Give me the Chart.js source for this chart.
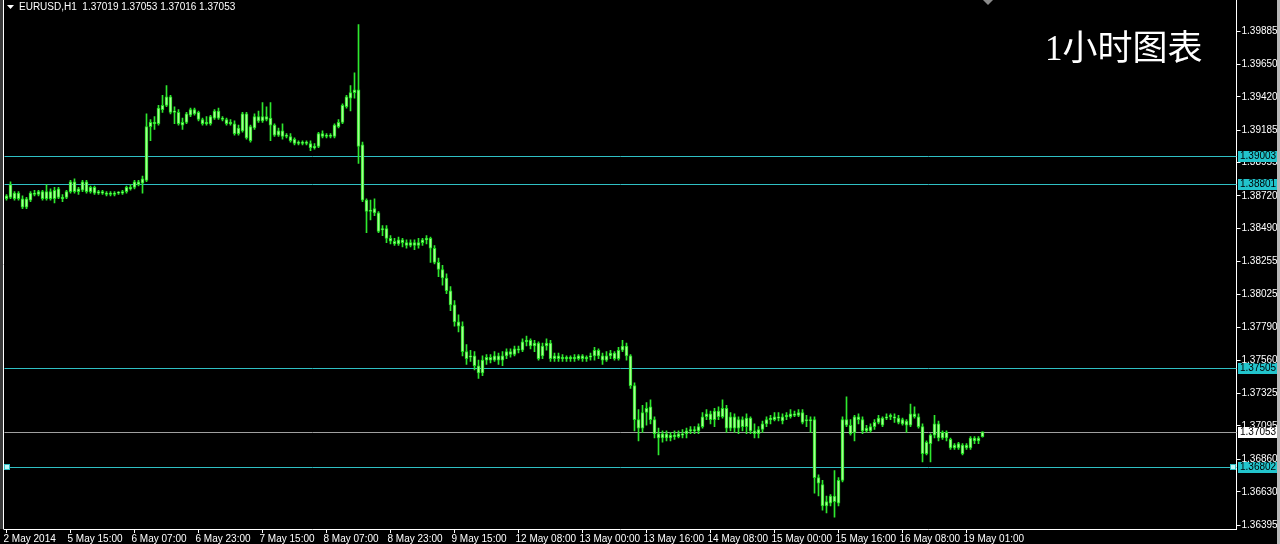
<!DOCTYPE html>
<html>
<head>
<meta charset="utf-8">
<script src="https://cdn.jsdelivr.net/npm/chart.js@4.4.1/dist/chart.umd.min.js"></script>
<style>
  html, body { margin: 0; padding: 0; background: #000; overflow: hidden; }
  canvas { display: block; }
</style>
</head>
<body>
<canvas id="priceChart" width="1280" height="544"></canvas>
<script>
// EURUSD H1, one candle per hour
const opens = [
  1.3872,1.3871,1.3874,1.3870,1.3870,1.3864,1.3869,1.3874,1.3873,1.3875,
  1.3870,1.3875,1.3876,1.3871,1.3871,1.3871,1.3875,1.3882,1.3875,1.3876,
  1.3882,1.3875,1.3878,1.3874,1.3875,1.3874,1.3874,1.3873,1.3874,1.3874,
  1.3875,1.3877,1.3878,1.3880,1.3881,1.3883,1.3921,1.3923,1.3923,1.3933,
  1.3936,1.3942,1.3931,1.3931,1.3924,1.3924,1.3929,1.3933,1.3931,1.3926,
  1.3924,1.3923,1.3927,1.3932,1.3927,1.3926,1.3924,1.3923,1.3916,1.3918,
  1.3930,1.3911,1.3920,1.3928,1.3925,1.3928,1.3927,1.3922,1.3918,1.3918,
  1.3915,1.3914,1.3912,1.3910,1.3909,1.3910,1.3909,1.3907,1.3907,1.3916,
  1.3914,1.3914,1.3914,1.3921,1.3924,1.3935,1.3941,1.3945,1.3947,1.3908,
  1.3869,1.3862,1.3863,1.3860,1.3848,1.3849,1.3842,1.3840,1.3838,1.3841,
  1.3839,1.3837,1.3839,1.3837,1.3839,1.3841,1.3842,1.3835,1.3825,1.3820,
  1.3814,1.3805,1.3795,1.3783,1.3780,1.3762,1.3758,1.3759,1.3752,1.3747,
  1.3756,1.3758,1.3756,1.3759,1.3756,1.3759,1.3762,1.3760,1.3764,1.3763,
  1.3769,1.3770,1.3766,1.3768,1.3759,1.3766,1.3768,1.3757,1.3759,1.3757,
  1.3758,1.3757,1.3758,1.3757,1.3759,1.3757,1.3758,1.3759,1.3763,1.3759,
  1.3756,1.3759,1.3761,1.3757,1.3763,1.3766,1.3759,1.3738,1.3714,1.3708,
  1.3719,1.3723,1.3714,1.3704,1.3701,1.3704,1.3701,1.3703,1.3702,1.3704,
  1.3704,1.3706,1.3707,1.3706,1.3709,1.3716,1.3718,1.3714,1.3720,1.3716,
  1.3722,1.3708,1.3716,1.3708,1.3714,1.3709,1.3715,1.3706,1.3704,1.3707,
  1.3711,1.3714,1.3714,1.3716,1.3713,1.3716,1.3716,1.3718,1.3717,1.3719,
  1.3714,1.3713,1.3714,1.3673,1.3668,1.3653,1.3655,1.3656,1.3655,1.3671,
  1.3714,1.3710,1.3705,1.3716,1.3714,1.3706,1.3706,1.3709,1.3712,1.3715,
  1.3715,1.3716,1.3715,1.3715,1.3714,1.3713,1.3710,1.3716,1.3716,1.3709,
  1.3690,1.3697,1.3703,1.3711,1.3701,1.3705,1.3700,1.3694,1.3694,1.3696,
  1.3694,1.3694,1.3699,1.3699,1.37019
];
const highs = [
  1.3873,1.3882,1.3875,1.3875,1.3872,1.3871,1.3875,1.3876,1.3876,1.3876,
  1.3880,1.3877,1.3878,1.3878,1.3873,1.3876,1.3883,1.3884,1.3878,1.3883,
  1.3883,1.3879,1.3879,1.3876,1.3876,1.3875,1.3875,1.3875,1.3875,1.3876,
  1.3879,1.3880,1.3883,1.3883,1.3886,1.3930,1.3926,1.3928,1.3936,1.3943,
  1.3950,1.3943,1.3935,1.3933,1.3927,1.3931,1.3934,1.3934,1.3932,1.3927,
  1.3928,1.3929,1.3933,1.3934,1.3928,1.3927,1.3926,1.3925,1.3922,1.3931,
  1.3931,1.3922,1.3930,1.3932,1.3938,1.3935,1.3938,1.3923,1.3920,1.3923,
  1.3916,1.3916,1.3913,1.3911,1.3911,1.3911,1.3911,1.3909,1.3917,1.3918,
  1.3916,1.3916,1.3923,1.3926,1.3937,1.3943,1.3950,1.3959,1.3993,1.3910,
  1.3870,1.3869,1.3870,1.3861,1.3851,1.3851,1.3844,1.3842,1.3843,1.3842,
  1.3841,1.3841,1.3841,1.3842,1.3842,1.3844,1.3843,1.3837,1.3828,1.3823,
  1.3817,1.3808,1.3798,1.3788,1.3783,1.3767,1.3763,1.3762,1.3756,1.3759,
  1.3760,1.3760,1.3762,1.3761,1.3762,1.3764,1.3764,1.3766,1.3766,1.3771,
  1.3773,1.3771,1.3770,1.3769,1.3768,1.3771,1.3770,1.3761,1.3761,1.3760,
  1.3759,1.3759,1.3760,1.3760,1.3760,1.3759,1.3761,1.3765,1.3764,1.3761,
  1.3762,1.3763,1.3762,1.3765,1.3770,1.3768,1.3760,1.3740,1.3721,1.3724,
  1.3726,1.3728,1.3716,1.3708,1.3706,1.3706,1.3705,1.3706,1.3706,1.3707,
  1.3708,1.3709,1.3709,1.3711,1.3719,1.3721,1.3720,1.3722,1.3723,1.3728,
  1.3724,1.3719,1.3718,1.3716,1.3716,1.3718,1.3716,1.3711,1.3709,1.3713,
  1.3716,1.3717,1.3719,1.3719,1.3718,1.3719,1.3721,1.3720,1.3721,1.3721,
  1.3717,1.3716,1.3716,1.3675,1.3671,1.3660,1.3661,1.3678,1.3673,1.3716,
  1.3730,1.3714,1.3717,1.3718,1.3716,1.3710,1.3711,1.3714,1.3717,1.3716,
  1.3718,1.3718,1.3718,1.3717,1.3715,1.3714,1.3725,1.3723,1.3718,1.3711,
  1.3699,1.3704,1.3717,1.3713,1.3706,1.3706,1.3701,1.3697,1.3698,1.3697,
  1.3697,1.3702,1.3702,1.3702,1.37053
];
const lows = [
  1.3869,1.3870,1.3869,1.3869,1.3863,1.3863,1.3868,1.3872,1.3872,1.3869,
  1.3869,1.3869,1.3867,1.3870,1.3868,1.3870,1.3874,1.3874,1.3873,1.3875,
  1.3874,1.3874,1.3873,1.3873,1.3873,1.3872,1.3872,1.3872,1.3873,1.3873,
  1.3874,1.3876,1.3877,1.3879,1.3874,1.3882,1.3911,1.3919,1.3922,1.3931,
  1.3935,1.3930,1.3923,1.3922,1.3919,1.3923,1.3928,1.3929,1.3925,1.3922,
  1.3922,1.3922,1.3926,1.3926,1.3925,1.3922,1.3922,1.3915,1.3915,1.3917,
  1.3912,1.3910,1.3919,1.3924,1.3924,1.3925,1.3911,1.3914,1.3914,1.3912,
  1.3913,1.3910,1.3908,1.3908,1.3908,1.3908,1.3904,1.3905,1.3906,1.3913,
  1.3913,1.3913,1.3913,1.3920,1.3923,1.3934,1.3932,1.3941,1.3895,1.3868,
  1.3846,1.3855,1.3858,1.3846,1.3844,1.3839,1.3838,1.3837,1.3837,1.3836,
  1.3835,1.3836,1.3834,1.3835,1.3837,1.3838,1.3825,1.3824,1.3815,1.3809,
  1.3803,1.3791,1.3780,1.3776,1.3759,1.3753,1.3755,1.3749,1.3743,1.3745,
  1.3753,1.3754,1.3755,1.3753,1.3752,1.3757,1.3758,1.3759,1.3761,1.3762,
  1.3766,1.3764,1.3762,1.3756,1.3757,1.3763,1.3755,1.3755,1.3755,1.3755,
  1.3755,1.3755,1.3755,1.3756,1.3755,1.3755,1.3756,1.3756,1.3757,1.3753,
  1.3755,1.3757,1.3756,1.3756,1.3762,1.3756,1.3736,1.3706,1.3699,1.3705,
  1.3710,1.3711,1.3701,1.3689,1.3698,1.3699,1.3699,1.3700,1.3701,1.3701,
  1.3701,1.3704,1.3704,1.3704,1.3708,1.3714,1.3711,1.3709,1.3714,1.3715,
  1.3705,1.3706,1.3705,1.3704,1.3706,1.3704,1.3704,1.3701,1.3701,1.3705,
  1.3709,1.3711,1.3713,1.3713,1.3711,1.3714,1.3715,1.3716,1.3716,1.3711,
  1.3709,1.3705,1.3662,1.3660,1.3650,1.3648,1.3653,1.3645,1.3653,1.3670,
  1.3709,1.3703,1.3699,1.3711,1.3704,1.3705,1.3705,1.3707,1.3711,1.3709,
  1.3714,1.3714,1.3712,1.3711,1.3710,1.3705,1.3709,1.3715,1.3708,1.3684,
  1.3689,1.3684,1.3701,1.3699,1.3700,1.3699,1.3693,1.3693,1.3693,1.3689,
  1.3693,1.3693,1.3697,1.3697,1.37016
];
const closes = [
  1.3870,1.3880,1.3870,1.3874,1.3864,1.3870,1.3874,1.3873,1.3875,1.3870,
  1.3875,1.3870,1.3870,1.3877,1.3870,1.3875,1.3882,1.3875,1.3877,1.3882,
  1.3875,1.3878,1.3874,1.3875,1.3874,1.3873,1.3873,1.3874,1.3874,1.3875,
  1.3878,1.3878,1.3882,1.3882,1.3884,1.3921,1.3924,1.3924,1.3934,1.3936,
  1.3942,1.3931,1.3932,1.3923,1.3922,1.3930,1.3933,1.3930,1.3926,1.3923,
  1.3923,1.3928,1.3932,1.3927,1.3926,1.3923,1.3923,1.3916,1.3920,1.3930,
  1.3913,1.3921,1.3928,1.3925,1.3928,1.3926,1.3922,1.3915,1.3915,1.3914,
  1.3914,1.3911,1.3909,1.3909,1.3910,1.3909,1.3906,1.3906,1.3916,1.3914,
  1.3915,1.3915,1.3922,1.3924,1.3936,1.3942,1.3945,1.3947,1.3907,1.3869,
  1.3861,1.3861,1.3860,1.3847,1.3849,1.3842,1.3840,1.3838,1.3841,1.3839,
  1.3837,1.3839,1.3837,1.3839,1.3841,1.3842,1.3835,1.3825,1.3820,1.3814,
  1.3805,1.3795,1.3783,1.3780,1.3762,1.3757,1.3759,1.3752,1.3747,1.3756,
  1.3758,1.3756,1.3759,1.3756,1.3759,1.3762,1.3760,1.3764,1.3763,1.3769,
  1.3770,1.3766,1.3768,1.3757,1.3766,1.3768,1.3757,1.3759,1.3757,1.3758,
  1.3757,1.3758,1.3757,1.3759,1.3757,1.3758,1.3759,1.3763,1.3759,1.3756,
  1.3759,1.3761,1.3757,1.3763,1.3766,1.3759,1.3738,1.3714,1.3708,1.3719,
  1.3722,1.3714,1.3704,1.3701,1.3704,1.3701,1.3703,1.3702,1.3704,1.3703,
  1.3706,1.3707,1.3706,1.3709,1.3716,1.3718,1.3714,1.3720,1.3716,1.3722,
  1.3708,1.3716,1.3708,1.3714,1.3709,1.3715,1.3706,1.3704,1.3707,1.3711,
  1.3714,1.3715,1.3716,1.3715,1.3716,1.3717,1.3718,1.3717,1.3719,1.3712,
  1.3713,1.3714,1.3673,1.3669,1.3653,1.3656,1.3660,1.3660,1.3671,1.3714,
  1.3710,1.3704,1.3716,1.3714,1.3706,1.3708,1.3709,1.3712,1.3715,1.3710,
  1.3716,1.3717,1.3716,1.3712,1.3711,1.3710,1.3718,1.3718,1.3709,1.3690,
  1.3698,1.3703,1.3711,1.3701,1.3705,1.3701,1.3694,1.3696,1.3697,1.3690,
  1.3696,1.3701,1.3701,1.3701,1.37053
];

// time axis: one label every 16 bars
const tickLabels = ['2 May 2014', '5 May 15:00', '6 May 07:00', '6 May 23:00', '7 May 15:00',
  '8 May 07:00', '8 May 23:00', '9 May 15:00', '12 May 08:00', '13 May 00:00', '13 May 16:00',
  '14 May 08:00', '15 May 00:00', '15 May 16:00', '16 May 08:00', '19 May 01:00'];
const priceTicks = [1.36395, 1.36630, 1.36860, 1.37095, 1.37325, 1.37560, 1.37790, 1.38025,
  1.38255, 1.38490, 1.38720, 1.38955, 1.39185, 1.39420, 1.39650, 1.39885];
const levels = [1.39003, 1.38801, 1.37505, 1.36802];
const bidPrice = 1.37053;
const header = 'EURUSD,H1  1.37019 1.37053 1.37016 1.37053';
const caption = '1小时图表';

const barSlots = 308; // visible bar positions incl. empty shift area
const slotLabels = Array.from({ length: barSlots }, (_, i) => String(i));
const font = '"Liberation Sans", Arial, sans-serif';

const mt4Decor = {
  id: 'mt4Decor',
  beforeDraw(chart) {
    const ctx = chart.ctx;
    ctx.save();
    ctx.fillStyle = '#000';
    ctx.fillRect(0, 0, chart.width, chart.height);
    ctx.restore();
  },
  beforeDatasetsDraw(chart) {
    const { ctx, chartArea: a, scales: { y } } = chart;
    ctx.save();
    ctx.lineWidth = 1;
    ctx.strokeStyle = '#2fbfc4';
    levels.forEach(v => {
      const py = Math.round(y.getPixelForValue(v)) + 0.5;
      ctx.beginPath(); ctx.moveTo(a.left, py); ctx.lineTo(a.right, py); ctx.stroke();
    });
    const by = Math.round(y.getPixelForValue(bidPrice)) + 0.5;
    ctx.strokeStyle = '#a0a0a0';
    ctx.beginPath(); ctx.moveTo(a.left, by); ctx.lineTo(a.right, by); ctx.stroke();
    ctx.restore();
  },
  afterDraw(chart) {
    const { ctx, chartArea: a, scales: { y } } = chart;
    ctx.save();
    // frame bits
    ctx.fillStyle = '#3a3a3a';
    ctx.fillRect(0, 0, 3, a.bottom);
    ctx.fillStyle = '#b8b8b8';
    ctx.fillRect(1277, 0, 3, chart.height);
    ctx.strokeStyle = '#fff';
    ctx.lineWidth = 1;
    ctx.beginPath(); ctx.moveTo(3.5, 0); ctx.lineTo(3.5, Math.round(a.bottom) + 0.5); ctx.stroke();

    // square handles on the lowest level
    const sy = Math.round(y.getPixelForValue(levels[3]));
    ctx.fillStyle = '#bff6f8';
    ctx.strokeStyle = '#2fbfc4';
    [[5, sy - 2], [1231, sy - 2]].forEach(([sx, sy2]) => {
      ctx.fillRect(sx, sy2, 4, 4);
      ctx.strokeRect(sx - 0.5, sy2 - 0.5, 5, 5);
    });

    // price tags on the right axis
    ctx.font = '10px ' + font;
    ctx.textBaseline = 'middle';
    ctx.textAlign = 'left';
    const tag = (v, bg) => {
      const py = Math.round(y.getPixelForValue(v));
      ctx.fillStyle = bg;
      ctx.fillRect(1238, py - 5, 39, 11);
      ctx.fillStyle = '#000';
      ctx.fillText(v.toFixed(5), 1240, py + 0.5);
    };
    levels.forEach(v => tag(v, '#22c4cc'));
    tag(bidPrice, '#fff');

    // header with the little dropdown arrow
    ctx.fillStyle = '#fff';
    ctx.beginPath(); ctx.moveTo(7, 5); ctx.lineTo(14, 5); ctx.lineTo(10.5, 9); ctx.closePath(); ctx.fill();
    ctx.fillText(header, 19, 7.5);

    // chart shift marker
    ctx.fillStyle = '#8a8a8a';
    ctx.beginPath(); ctx.moveTo(983, 0); ctx.lineTo(993, 0); ctx.lineTo(988, 5); ctx.closePath(); ctx.fill();

    // caption
    ctx.fillStyle = '#fff';
    ctx.textBaseline = 'alphabetic';
    ctx.font = '35px "Liberation Serif", "Noto Sans CJK SC", serif';
    ctx.fillText(caption, 1045, 60);
    ctx.restore();
  }
};

new Chart(document.getElementById('priceChart').getContext('2d'), {
  type: 'bar',
  data: {
    labels: slotLabels,
    datasets: [{
      label: 'body',
      data: opens.map((o, i) => [o, closes[i]]),
      backgroundColor: '#a6ff90',
      borderColor: '#1fe01f',
      borderWidth: 1,
      borderSkipped: false,
      barThickness: 3,
      minBarLength: 1,
      grouped: false
    }, {
      label: 'wick',
      data: lows.map((l, i) => [l, highs[i]]),
      backgroundColor: '#2ee82e',
      barThickness: 1,
      grouped: false
    }]
  },
  options: {
    responsive: false,
    animation: false,
    devicePixelRatio: 1,
    events: [],
    layout: { padding: { left: 4.5, right: 0, top: 0, bottom: 0 } },
    plugins: { legend: { display: false }, tooltip: { enabled: false } },
    scales: {
      x: {
        type: 'category',
        offset: true,
        grid: { display: true, drawOnChartArea: false, offset: false, tickLength: 4, color: '#fff' },
        border: { color: '#fff' },
        ticks: {
          autoSkip: false, maxRotation: 0, minRotation: 0, align: 'start', padding: 0, labelOffset: -3,
          color: '#fff', font: { size: 10, family: font },
          callback: (v, i) => tickLabels[i]
        },
        afterBuildTicks: s => { s.ticks = tickLabels.map((_, k) => ({ value: k * 16 })); },
        afterFit: s => { s.height = 15; s.paddingLeft = 0; s.paddingRight = 0; }
      },
      y: {
        position: 'right',
        min: 1.36367,
        max: 1.40104,
        grid: { display: true, drawOnChartArea: false, tickLength: 4, color: '#fff' },
        border: { color: '#fff' },
        ticks: { color: '#fff', padding: 1, font: { size: 10, family: font }, callback: v => v.toFixed(5) },
        afterBuildTicks: s => { s.ticks = priceTicks.map(v => ({ value: v })); },
        afterFit: s => { s.width = 43.5; s.paddingTop = 0; s.paddingBottom = 0; }
      }
    }
  },
  plugins: [mt4Decor]
});
</script>
</body>
</html>
